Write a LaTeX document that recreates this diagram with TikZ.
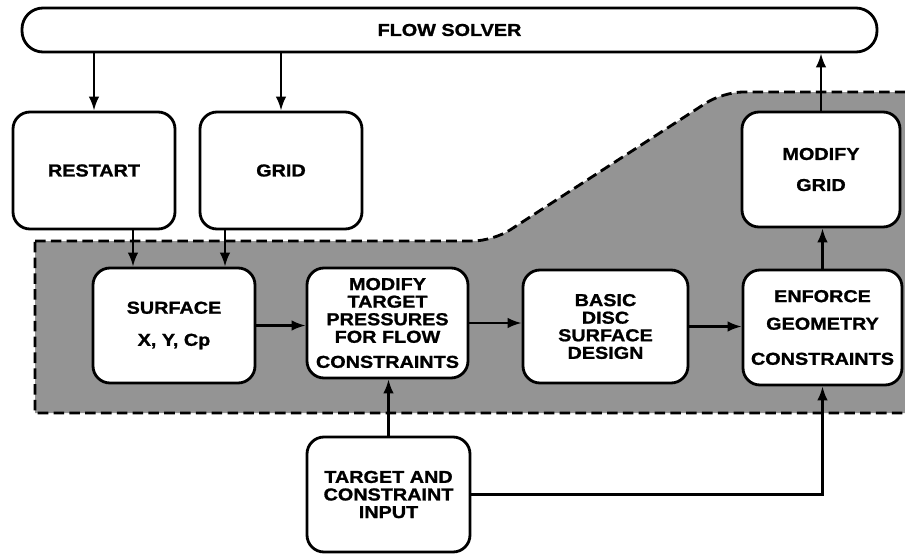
\documentclass[tikz,border=0pt]{standalone}
\usepackage{fontspec}
\newfontfamily\diagfont{Liberation Sans}[FakeStretch=1.15, BoldFeatures={FakeBold=1.2}]
\usetikzlibrary{arrows.meta}

\begin{document}
\begin{tikzpicture}[
  font=\diagfont\bfseries\fontsize{9.8}{10}\selectfont,
  blk/.style={draw, line width=1.6pt, rounded corners=0.34cm, align=center, fill=white, inner sep=0pt},
  arr/.style={line width=1.2pt, -{Latex[length=8pt,width=6pt]}}
]
\useasboundingbox (0,0) rectangle (18.1,-11.08);
% shaded design loop
\draw[line width=1.6pt, dash pattern=on 6pt off 3pt, fill=black!42]
  (0.7,-4.82) [rounded corners=0.4cm] -- (9.86,-4.82) -- (14.46,-1.84) [sharp corners] -- (18.4,-1.84)
  -- (18.4,-8.26) -- (0.7,-8.26) -- cycle;
% boxes
\node[blk, minimum width=17.1cm, minimum height=0.88cm, rounded corners=0.42cm] (flow) at (8.99,-0.6) {FLOW SOLVER};
\node[blk, minimum width=3.24cm, minimum height=2.34cm] (restart) at (1.88,-3.41) {RESTART};
\node[blk, minimum width=3.24cm, minimum height=2.34cm] (grid) at (5.62,-3.41) {GRID};
\node[blk, minimum width=3.16cm, minimum height=2.3cm] (modgrid) at (16.42,-3.39) {MODIFY\\[0.27cm]GRID};
\node[blk, minimum width=3.24cm, minimum height=2.3cm] (surface) at (3.48,-6.51) {SURFACE\\[0.29cm]X, Y, Cp};
\node[blk, minimum width=3.22cm, minimum height=2.2cm] (modtarget) at (7.75,-6.46) {MODIFY\\TARGET\\PRESSURES\\FOR FLOW\\[0.15cm]CONSTRAINTS};
\node[blk, minimum width=3.3cm, minimum height=2.26cm] (basic) at (12.11,-6.53) {BASIC\\DISC\\SURFACE\\DESIGN};
\node[blk, minimum width=3.18cm, minimum height=2.3cm] (enforce) at (16.45,-6.55) {ENFORCE\\[0.2cm]GEOMETRY\\[0.35cm]CONSTRAINTS};
\node[blk, minimum width=3.26cm, minimum height=2.3cm] (target) at (7.77,-9.89) {TARGET AND\\CONSTRAINT\\INPUT};
% connectors
\draw[arr] (flow.south -| restart.north) -- (restart.north);
\draw[arr] (flow.south -| grid.north) -- (grid.north);
\draw[arr] ([xshift=0.78cm]restart.south) -- ([xshift=0.78cm]restart.south |- surface.north);
\draw[arr] ([xshift=-1.12cm]grid.south) -- ([xshift=-1.12cm]grid.south |- surface.north);
\draw[arr] (surface.east) -- (surface.east -| modtarget.west);
\draw[arr] (modtarget.east) -- (modtarget.east -| basic.west);
\draw[arr] (basic.east) -- (basic.east -| enforce.west);
\draw[arr] (enforce.north) -- (enforce.north |- modgrid.south);
\draw[arr] (modgrid.north) -- (modgrid.north |- flow.south);
\draw[arr] (target.north) -- (target.north |- modtarget.south);
\draw[arr] (target.east) -| (enforce.south);
\end{tikzpicture}
\end{document}
